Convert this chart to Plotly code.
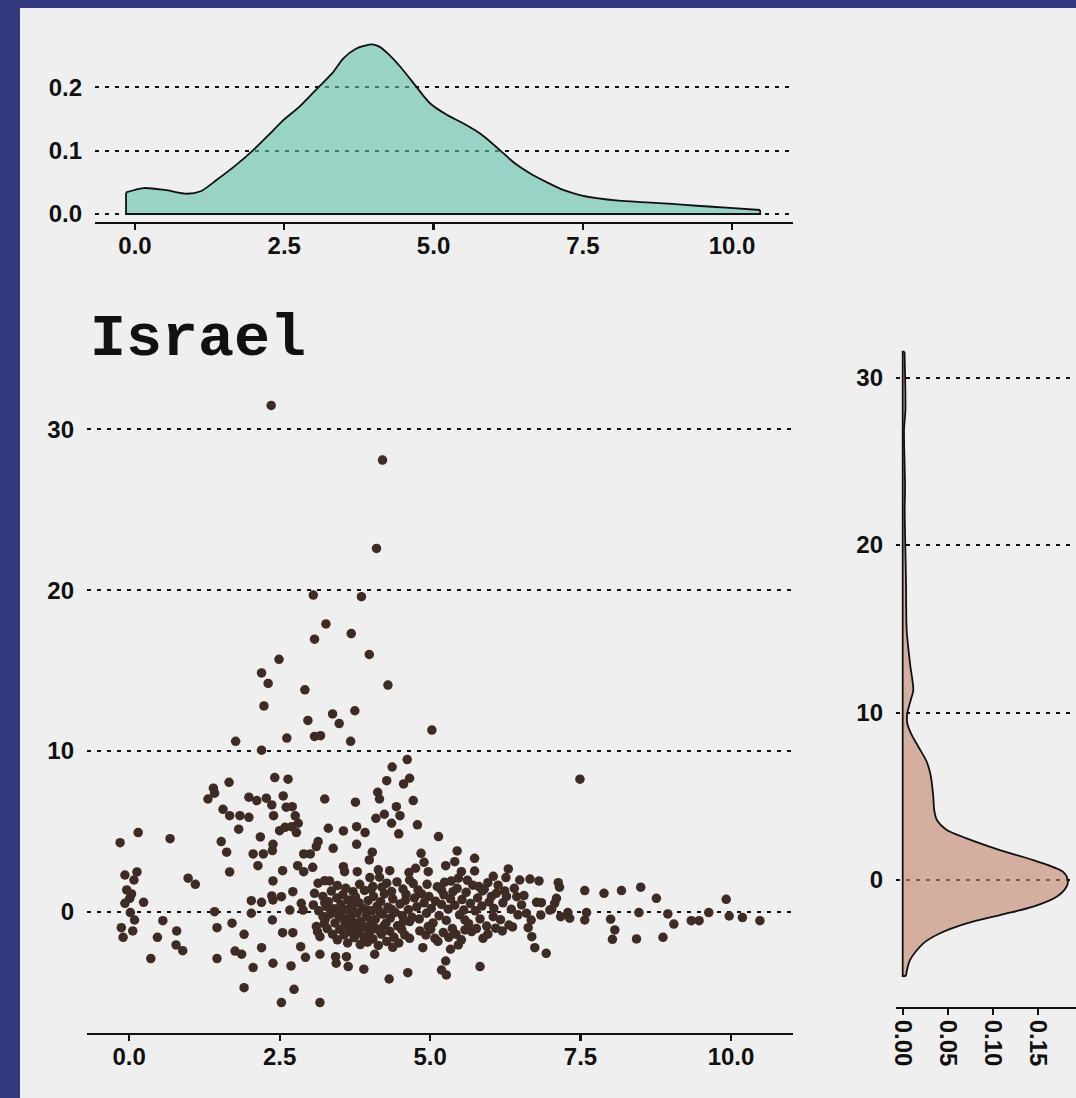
import plotly.graph_objects as go

# ---- scatter: Israel ----
pts = [
    # upper tail
    (2.36, 31.5), (4.21, 28.1), (4.11, 22.6), (3.06, 19.7), (3.86, 19.6), (3.27, 17.9),
    (3.69, 17.3), (3.08, 16.95), (3.99, 16.0), (2.49, 15.7), (2.20, 14.85), (2.31, 14.2),
    (4.30, 14.1), (2.92, 13.8), (2.24, 12.8), (3.75, 12.5), (3.38, 12.3), (2.97, 11.9),
    (3.49, 11.7), (3.08, 10.9), (3.18, 10.95), (5.03, 11.3), (2.62, 10.8), (3.68, 10.6),
    (1.77, 10.6), (2.20, 10.05), (4.62, 9.46), (4.37, 9.0),
    # left half
    (2.42, 8.34), (2.64, 8.24), (1.66, 8.05), (1.40, 7.68), (1.42, 7.37), (1.31, 7.01),
    (3.25, 7.01), (1.99, 7.12), (2.12, 6.91), (2.28, 7.06), (2.37, 6.64), (2.56, 7.20),
    (2.61, 6.50), (2.71, 6.53), (1.56, 6.37), (1.67, 5.97), (1.84, 5.97), (1.99, 5.87),
    (2.40, 5.97), (2.76, 5.96), (2.81, 5.50), (3.31, 5.19), (1.82, 5.13), (2.50, 5.04),
    (2.59, 5.25), (2.70, 5.29), (2.78, 4.92), (0.15, 4.92), (-0.15, 4.29), (0.68, 4.54),
    (2.18, 4.65), (1.53, 4.36), (1.62, 3.70), (2.39, 4.19), (2.38, 3.80), (2.06, 3.59),
    (2.23, 3.59), (3.14, 4.36), (3.11, 4.05), (2.90, 3.59), (3.01, 3.59), (2.14, 2.86),
    (2.80, 2.86), (2.90, 2.49), (3.05, 2.76), (2.55, 2.55), (1.67, 2.47), (-0.07, 2.28),
    (0.13, 2.47), (0.08, 1.97), (0.98, 2.08), (1.10, 1.70), (2.39, 1.91), (3.14, 1.77),
    (3.25, 1.93), (-0.04, 1.35), (0.04, 1.10), (-0.07, 0.52), (0.01, 0.83), (0.24, 0.58),
    (2.37, 0.98), (2.53, 0.93), (2.72, 1.24), (2.39, 0.73), (2.03, 0.68), (2.20, 0.58),
    (2.86, 0.52), (3.06, 0.42), (3.08, 1.14), (0.02, -0.06), (1.42, 0.0), (2.03, -0.1),
    (2.67, 0.1), (2.89, 0.1), (3.28, 0.31), (0.09, -0.52), (0.56, -0.56), (-0.13, -1.0),
    (0.06, -1.2), (-0.10, -1.6), (0.79, -1.2), (0.47, -1.6), (1.46, -1.0), (1.71, -0.72),
    (1.91, -1.41), (2.38, -0.52), (2.55, -1.31), (2.72, -1.31), (3.11, -0.93), (3.17, -1.56),
    (0.78, -2.07), (0.89, -2.43), (0.36, -2.92), (1.46, -2.92), (1.76, -2.45), (1.87, -2.65),
    (2.20, -2.24), (2.85, -2.18), (2.93, -2.84), (3.17, -2.65), (2.06, -3.48), (2.39, -3.21),
    (2.69, -3.38), (1.91, -4.73), (2.74, -4.83), (2.53, -5.66), (3.17, -5.66),
    (3.15, 0.05), (3.22, -0.30), (3.25, 0.55), (3.13, -1.25), (3.24, -0.75),
    # middle
    (4.66, 8.30), (4.56, 7.95), (4.28, 8.15), (4.13, 7.43), (4.16, 7.01), (4.72, 6.91),
    (3.76, 6.81), (4.44, 6.53), (4.50, 5.97), (4.24, 6.06), (4.10, 5.81), (4.36, 5.50),
    (4.79, 5.40), (4.48, 4.84), (5.14, 4.67), (3.56, 5.02), (3.78, 5.29), (3.92, 4.92),
    (3.39, 3.94), (3.78, 4.19), (4.04, 3.70), (3.99, 3.22), (4.85, 3.63), (4.90, 3.07),
    (4.97, 2.49), (5.45, 3.78), (5.41, 3.11), (5.26, 2.86), (5.74, 3.32), (5.74, 2.53),
    (5.52, 2.49), (5.47, 2.08), (3.56, 2.80), (3.58, 2.49), (3.79, 2.49), (4.14, 2.60),
    (4.33, 2.55), (4.65, 2.43), (4.76, 2.70), (3.33, 1.91), (4.00, 2.12), (4.16, 2.14),
    (4.28, 1.77), (4.66, 1.97), (5.24, 1.83), (6.30, 2.66), (6.26, 2.12), (6.49, 1.97),
    (6.66, 2.03), (6.81, 1.91), (3.72, 1.24), (4.05, 1.56), (4.55, 1.41), (4.80, 1.35),
    (5.19, 1.35), (5.38, 1.24), (5.81, 1.56), (5.87, 1.29), (6.10, 1.14), (6.24, 1.29),
    (6.44, 0.93), (6.52, 0.42), (6.77, 0.58), (6.84, -0.21), (6.99, 0.1), (6.68, -0.52),
    (6.63, -1.0), (6.69, -1.56), (6.74, -2.24), (6.93, -2.59), (6.31, -0.83), (6.09, -1.03),
    (5.88, -1.66), (6.05, -0.31), (5.83, -3.42), (5.47, -2.07), (5.34, -2.34), (5.26, -3.07),
    (5.19, -3.63), (5.27, -3.94), (5.58, -1.14), (5.69, -1.24), (5.58, -0.52), (5.08, -1.66),
    (4.88, -2.24), (4.97, -0.93), (4.66, -0.62), (4.58, -1.45), (4.66, -1.66), (4.38, -2.22),
    (4.08, -2.65), (3.90, -3.58), (4.32, -4.19), (4.63, -3.80), (3.43, -2.80), (3.44, -3.21),
    (3.61, -2.80), (3.64, -3.42),
    # dense core around x 3.2 - 4.7
    (3.22, 0.95), (3.31, 0.62), (3.36, 1.28), (3.40, 0.18), (3.45, 0.85), (3.48, -0.22),
    (3.52, 0.45), (3.55, 1.05), (3.58, -0.60), (3.61, 0.12), (3.64, 0.72), (3.67, -0.35),
    (3.70, 0.38), (3.73, -0.95), (3.76, 0.92), (3.79, -0.10), (3.82, 0.55), (3.85, -0.62),
    (3.88, 0.20), (3.91, 1.32), (3.94, -0.30), (3.97, 0.68), (4.00, -0.85), (4.03, 0.05),
    (4.06, 0.95), (4.09, -0.48), (4.12, 0.35), (4.15, -1.15), (4.18, 0.62), (4.21, -0.15),
    (4.24, 1.10), (4.27, -0.70), (4.30, 0.28), (4.34, -0.40), (4.38, 0.80), (4.42, -0.05),
    (4.46, -0.88), (4.50, 0.48), (4.54, -0.25), (4.59, 0.70), (4.64, 0.12), (4.70, -0.35),
    (3.26, -0.45), (3.29, -1.05), (3.34, -0.15), (3.38, -1.40), (3.42, -0.70), (3.46, -1.75),
    (3.50, -1.10), (3.54, -0.38), (3.57, -1.45), (3.60, -0.85), (3.63, -1.95), (3.66, -1.25),
    (3.70, -0.58), (3.74, -1.62), (3.78, -0.72), (3.81, -1.30), (3.84, -2.05), (3.87, -1.00),
    (3.90, -1.58), (3.93, -0.95), (3.96, -1.90), (3.99, -1.35), (4.02, -0.55), (4.05, -1.70),
    (4.10, -1.05), (4.14, -2.10), (4.19, -1.40), (4.23, -0.90), (4.28, -1.85), (4.33, -1.22),
    (4.40, -1.60), (4.48, -1.95), (4.53, -1.12),
    (3.46, 1.62), (3.60, 1.45), (3.83, 1.70), (4.02, 1.38), (4.20, 1.52), (4.36, 1.25),
    (4.45, 1.85), (4.60, 1.08), (3.50, 0.02), (3.73, 0.05), (3.96, 0.10), (4.16, 0.02),
    (4.36, 0.15), (4.56, -0.60),
    # band x 4.7 - 6.6
    (4.74, 0.85), (4.78, 0.30), (4.82, -0.45), (4.86, 1.10), (4.90, 0.55), (4.94, -0.10),
    (4.98, 0.95), (5.02, 0.20), (5.05, -0.70), (5.09, 0.65), (5.12, 1.55), (5.15, -0.25),
    (5.19, 0.45), (5.23, 1.05), (5.27, -0.55), (5.30, 0.15), (5.34, 0.80), (5.37, -1.05),
    (5.41, 0.40), (5.45, 1.45), (5.49, -0.20), (5.53, 0.75), (5.56, 0.10), (5.60, 1.20),
    (5.64, -0.75), (5.67, 0.50), (5.71, 1.65), (5.75, 0.05), (5.79, 0.85), (5.83, -0.45),
    (5.86, 0.35), (5.90, 1.40), (5.94, -0.90), (5.98, 0.60), (6.02, 0.95), (6.06, 0.20),
    (6.13, 1.65), (6.17, -0.50), (6.21, 0.55), (6.27, 0.95), (6.35, 0.15), (6.40, 1.45),
    (6.46, -0.20), (6.56, 1.00), (6.60, -0.10),
    (4.83, -1.20), (4.93, -1.45), (5.01, -1.10), (5.13, -1.85), (5.22, -1.30), (5.31, -1.60),
    (5.43, -1.40), (5.52, -1.75), (5.77, -1.05), (5.96, -1.40), (6.20, -1.20), (6.37, -0.95),
    (4.72, 1.75), (4.95, 1.70), (5.35, 1.90), (5.62, 1.95), (5.96, 1.80), (6.05, 2.20),
    # right tail
    (7.49, 8.24), (7.13, 1.80), (7.15, 1.52), (7.57, 1.31), (7.89, 1.14), (8.18, 1.31),
    (8.50, 1.52), (8.76, 0.83), (9.92, 0.77), (7.10, 0.83), (7.07, 0.52), (7.02, 0.15),
    (6.85, 0.56), (7.17, -0.31), (7.29, -0.06), (7.32, -0.41), (7.60, -0.06), (7.57, -0.52),
    (8.00, -0.47), (8.07, -1.14), (8.03, -1.72), (8.43, -1.70), (8.47, -0.06), (8.95, -0.14),
    (9.05, -0.77), (8.87, -1.60), (9.34, -0.56), (9.47, -0.56), (9.63, -0.06), (9.97, -0.27),
    (10.19, -0.37), (10.48, -0.56),
]
scatter_x = [p[0] for p in pts]
scatter_y = [p[1] for p in pts]

# ---- marginal density of x (top) ----
dens_x_grid = [-0.15, 0.14, 0.5, 0.87, 1.1, 1.37, 1.7, 1.98, 2.25, 2.48, 2.76, 3.07, 3.3,
               3.49, 3.7, 3.85, 3.97, 4.10, 4.25, 4.44, 4.72, 4.94, 5.2, 5.50, 5.78, 6.11,
               6.35, 6.62, 6.9, 7.17, 7.45, 7.73, 8.1, 8.57, 9.0, 9.41, 9.9, 10.47]
dens_x_vals = [0.034, 0.041, 0.038, 0.032, 0.036, 0.054, 0.078, 0.101, 0.126, 0.148, 0.170,
               0.200, 0.222, 0.246, 0.261, 0.266, 0.268, 0.264, 0.252, 0.233, 0.200, 0.175,
               0.158, 0.143, 0.127, 0.101, 0.081, 0.064, 0.050, 0.038, 0.030, 0.025, 0.021,
               0.0185, 0.016, 0.013, 0.010, 0.0063]

# ---- marginal density of y (right) ----
dens_y_grid = [-5.73, -4.78, -3.78, -3.18, -2.59, -2.09, -1.59, -1.0, -0.40, 0.0, 0.50, 1.19,
               1.79, 2.49, 2.99, 3.58, 4.18, 4.97, 6.27, 7.06, 7.96, 8.66, 9.35, 9.95, 10.94,
               11.34, 12.94, 14.93, 17.71, 19.90, 22.09, 23.48, 26.9, 28.06, 31.54]
dens_y_vals = [0.0035, 0.0081, 0.0229, 0.0415, 0.071, 0.108, 0.145, 0.171, 0.182, 0.1835,
               0.178, 0.145, 0.108, 0.071, 0.049, 0.038, 0.035, 0.034, 0.031, 0.0267, 0.0174,
               0.010, 0.0051, 0.0051, 0.010, 0.0118, 0.0081, 0.0044, 0.0037, 0.0029, 0.0022,
               0.0026, 0.0015, 0.003, 0.002]

main_ticks = [0, 2.5, 5, 7.5, 10]
main_ticktext = ["0.0", "2.5", "5.0", "7.5", "10.0"]
y_ticks = [0, 10, 20, 30]
top_y_ticks = [0, 0.1, 0.2]
top_y_ticktext = ["0.0", "0.1", "0.2"]
right_x_ticks = [0, 0.05, 0.10, 0.15]
right_x_ticktext = ["0.00", "0.05", "0.10", "0.15"]

W, H = 1076, 1098
BLUE = "#343a80"
PANEL = "#efefef"
POINT = "#3e2c24"
GRID_DASH = "4px,6px"
tick_font = dict(family="Liberation Sans, Arial, sans-serif", size=24, color="#111111", weight=700)

fig = go.Figure()

fig.add_trace(go.Scatter(
    x=scatter_x, y=scatter_y, mode="markers", xaxis="x", yaxis="y",
    marker=dict(size=9.5, color=POINT, line=dict(width=0)), hoverinfo="skip"))

fig.add_trace(go.Scatter(
    x=dens_x_grid, y=dens_x_vals, mode="lines", xaxis="x2", yaxis="y2",
    line=dict(color="#111111", width=1.8, shape="spline", smoothing=0.8),
    fill="tozeroy", fillcolor="rgba(94,191,169,0.6)", hoverinfo="skip"))
fig.add_trace(go.Scatter(
    x=[dens_x_grid[0], dens_x_grid[0], dens_x_grid[-1], dens_x_grid[-1]],
    y=[dens_x_vals[0], 0, 0, dens_x_vals[-1]], mode="lines", xaxis="x2", yaxis="y2",
    line=dict(color="#111111", width=1.8), hoverinfo="skip"))

fig.add_trace(go.Scatter(
    x=dens_y_vals, y=dens_y_grid, mode="lines", xaxis="x3", yaxis="y3",
    line=dict(color="#111111", width=1.8, shape="spline", smoothing=0.8),
    fill="tozerox", fillcolor="rgba(194,131,107,0.6)", hoverinfo="skip"))
fig.add_trace(go.Scatter(
    x=[dens_y_vals[0], 0, 0, dens_y_vals[-1]],
    y=[dens_y_grid[0], dens_y_grid[0], dens_y_grid[-1], dens_y_grid[-1]],
    mode="lines", xaxis="x3", yaxis="y3",
    line=dict(color="#111111", width=1.8), hoverinfo="skip"))


def xaxis_style(domain, rng, vals, text, angle=0, standoff=-5):
    return dict(domain=domain, range=rng, tickvals=vals, ticktext=text, tickangle=angle,
                showgrid=False, zeroline=False, showline=True, linecolor="#111111",
                linewidth=2.2, ticks="outside", ticklen=6, tickwidth=2.2,
                tickcolor="#111111", tickfont=tick_font, ticklabelstandoff=standoff,
                automargin=False, fixedrange=True)


def yaxis_style(domain, rng, vals, text=None):
    d = dict(domain=domain, range=rng, tickvals=vals, showgrid=True, gridcolor="#111111",
             gridwidth=2, griddash=GRID_DASH, zeroline=False, showline=False,
             ticks="", tickfont=tick_font, ticklabelstandoff=12, automargin=False,
             fixedrange=True)
    if text is not None:
        d["ticktext"] = text
    return d


fig.update_layout(
    width=W, height=H, margin=dict(l=0, r=0, t=0, b=0, pad=0, autoexpand=False),
    paper_bgcolor=BLUE, plot_bgcolor="rgba(0,0,0,0)", showlegend=False,
    xaxis=xaxis_style([87 / W, 793 / W], [-0.70, 11.03], main_ticks, main_ticktext),
    yaxis=yaxis_style([1 - 1033 / H, 1 - 375 / H], [-7.55, 33.39], y_ticks),
    xaxis2=dict(xaxis_style([95 / W, 793 / W], [-0.67, 11.02], main_ticks, main_ticktext),
                anchor="y2"),
    yaxis2=dict(yaxis_style([1 - 222 / H, 1 - 37 / H], [-0.01264, 0.2796], top_y_ticks,
                            top_y_ticktext), anchor="x2"),
    xaxis3=dict(xaxis_style([896 / W, 1.0], [-0.00744, 0.19256], right_x_ticks,
                            right_x_ticktext, angle=90, standoff=0), anchor="y3"),
    yaxis3=dict(yaxis_style([1 - 1006.7 / H, 1 - 320.6 / H], [-7.564, 33.40], y_ticks),
                anchor="x3"),
    shapes=[dict(type="rect", xref="paper", yref="paper", x0=20 / W, x1=1.0, y0=0,
                 y1=1 - 8 / H, fillcolor=PANEL, line=dict(width=0), layer="below")],
    annotations=[dict(text="Israel", xref="paper", yref="paper", x=88 / W, y=1 - 339 / H,
                      xanchor="left", yanchor="middle", showarrow=False,
                      font=dict(family="Liberation Mono, Courier New, monospace", size=60,
                                color="#111111", weight=700))],
    hovermode=False,
)

fig.write_html("out.html", config={"displayModeBar": False, "staticPlot": True})
